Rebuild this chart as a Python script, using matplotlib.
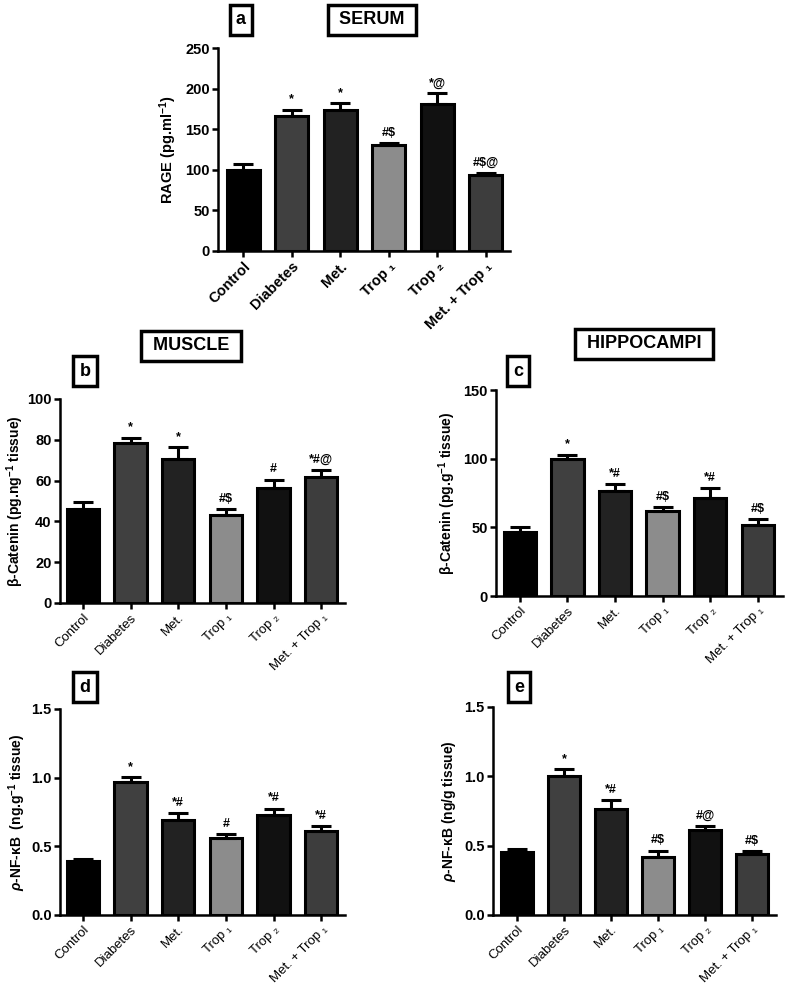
import matplotlib
matplotlib.use("Agg")
import matplotlib.pyplot as plt
import numpy as np

plt.rcParams['font.family'] = ['Liberation Sans', 'DejaVu Sans']
plt.rcParams['mathtext.fontset'] = 'custom'
plt.rcParams['mathtext.rm'] = 'Liberation Sans:bold'
plt.rcParams['mathtext.it'] = 'Liberation Sans:italic:bold'
plt.rcParams['mathtext.bf'] = 'Liberation Sans:bold'

groups = ["Control", "Diabetes", "Met.", "Trop \u2081", "Trop \u2082", "Met. + Trop \u2081"]
bar_colors = ["#000000", "#404040", "#222222", "#8c8c8c", "#111111", "#3d3d3d"]

# Panel a - serum RAGE
rage_mean = [100, 166, 174, 130, 181, 93]
rage_sem = [7, 8, 8, 3, 13, 3]
rage_sig = ["", "*", "*", "#$", "*@", "#$@"]

# Panel b - muscle beta-catenin
mus_bcat_mean = [46, 78.5, 70.5, 43, 56.5, 62]
mus_bcat_sem = [3.5, 2.5, 6, 3, 4, 3]
mus_bcat_sig = ["", "*", "*", "#$", "#", "*#@"]

# Panel c - hippocampi beta-catenin
hip_bcat_mean = [46.5, 100, 76.5, 62, 71.5, 52]
hip_bcat_sem = [4, 3, 5, 3, 7, 4]
hip_bcat_sig = ["", "*", "*#", "#$", "*#", "#$"]

# Panel d - muscle p-NF-kB
mus_nfkb_mean = [0.39, 0.97, 0.69, 0.56, 0.73, 0.61]
mus_nfkb_sem = [0.02, 0.035, 0.055, 0.03, 0.045, 0.04]
mus_nfkb_sig = ["", "*", "*#", "#", "*#", "*#"]

# Panel e - hippocampi p-NF-kB
hip_nfkb_mean = [0.455, 1.0, 0.765, 0.42, 0.615, 0.44]
hip_nfkb_sem = [0.02, 0.05, 0.065, 0.045, 0.025, 0.02]
hip_nfkb_sig = ["", "*", "*#", "#$", "#@", "#$"]

W, H = 787, 990
fig = plt.figure(figsize=(W / 100, H / 100), dpi=100)


def px_axes(left, right, top, bottom):
    return fig.add_axes([left / W, 1 - bottom / H, (right - left) / W, (bottom - top) / H])


def draw(ax, mean, sem, sig, ymax, yticks, yticklabels, ylabel, xlim, bold_x, labelpad=4):
    x = np.arange(len(groups))
    ax.bar(x, mean, width=0.68, color=bar_colors, edgecolor="black", linewidth=2.2, zorder=2)
    ax.errorbar(x, mean, yerr=[np.zeros(len(sem)), sem], fmt="none", ecolor="black",
                elinewidth=2.2, capsize=7, capthick=2.2, zorder=3)
    for xi, m, s, t in zip(x, mean, sem, sig):
        if t:
            ax.annotate(t, (xi, m + s), xytext=(0, 3), textcoords="offset points",
                        ha="center", va="bottom", fontsize=9, fontweight="bold")
    ax.set_xlim(*xlim)
    ax.set_ylim(0, ymax)
    ax.set_yticks(yticks)
    ax.set_yticklabels(yticklabels, fontsize=10.5, fontweight="bold")
    ax.set_xticks(x)
    ax.set_xticklabels(groups, rotation=45, ha="right", rotation_mode="anchor",
                       fontsize=10.5 if bold_x else 9.5,
                       fontweight="bold" if bold_x else "normal")
    ax.set_ylabel(ylabel, fontsize=10.5 if bold_x else 10, fontweight="bold", labelpad=labelpad)
    for s in ["top", "right"]:
        ax.spines[s].set_visible(False)
    for s in ["left", "bottom"]:
        ax.spines[s].set_linewidth(1.8)
    ax.tick_params(axis="both", width=1.8, length=4, direction="out", pad=2)


def box_label(x, y, text, size=13):
    fig.text(x / W, 1 - y / H, text, ha="center", va="center", fontsize=size, fontweight="bold",
             bbox=dict(boxstyle="square,pad=0.35", fc="white", ec="black", lw=2.5))


ax_a = px_axes(218, 510, 48, 251)
draw(ax_a, rage_mean, rage_sem, rage_sig, 250, [0, 50, 100, 150, 200, 250],
     ["0", "50", "100", "150", "200", "250"], "RAGE (pg.ml$^{-1}$)", (-0.52, 5.5), True)

ax_b = px_axes(60, 345, 399, 603)
draw(ax_b, mus_bcat_mean, mus_bcat_sem, mus_bcat_sig, 100, [0, 20, 40, 60, 80, 100],
     ["0", "20", "40", "60", "80", "100"], "\u03b2-Catenin (pg.ng$^{-1}$ tissue)", (-0.48, 5.5), False,
     labelpad=1)

ax_c = px_axes(496, 783, 390, 596)
draw(ax_c, hip_bcat_mean, hip_bcat_sem, hip_bcat_sig, 150, [0, 50, 100, 150],
     ["0", "50", "100", "150"], "\u03b2-Catenin (pg.g$^{-1}$ tissue)", (-0.5, 5.53), False)

ax_d = px_axes(60, 345, 709, 915)
draw(ax_d, mus_nfkb_mean, mus_nfkb_sem, mus_nfkb_sig, 1.5, [0, 0.5, 1.0, 1.5],
     ["0.0", "0.5", "1.0", "1.5"], "$\\rho$-NF-\u03baB  (ng.g$^{-1}$ tissue)", (-0.48, 5.5), False,
     labelpad=2)

ax_e = px_axes(493, 776, 707, 915)
draw(ax_e, hip_nfkb_mean, hip_nfkb_sem, hip_nfkb_sig, 1.5, [0, 0.5, 1.0, 1.5],
     ["0.0", "0.5", "1.0", "1.5"], "$\\rho$-NF-\u03baB (ng/g tissue)", (-0.51, 5.51), False)

box_label(241, 20, "a")
box_label(372, 20, " SERUM ")
box_label(191, 346, " MUSCLE ")
box_label(85, 371, "b")
box_label(644, 344, " HIPPOCAMPI ")
box_label(518, 371, "c")
box_label(85, 687, "d")
box_label(519, 687, "e")

fig.savefig("out.png", dpi=100)
